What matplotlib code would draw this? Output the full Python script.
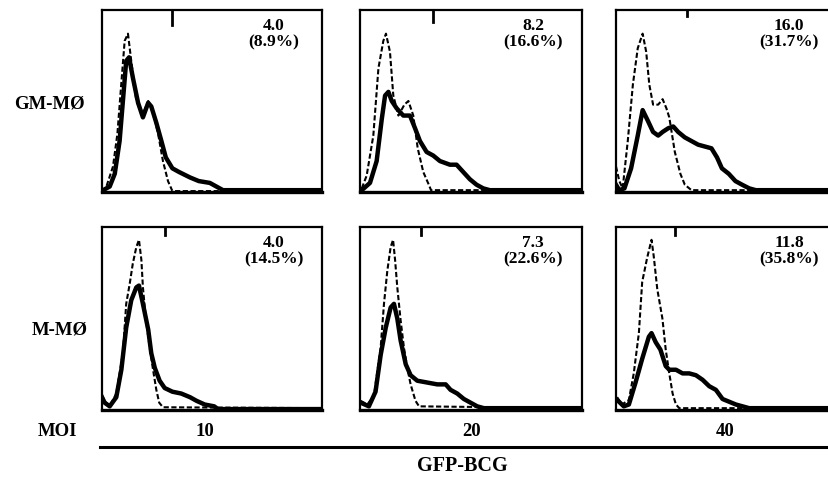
import matplotlib
matplotlib.use("Agg")
import matplotlib.pyplot as plt

plt.rcParams["font.family"] = ["Liberation Serif", "DejaVu Serif"]
plt.rcParams["font.weight"] = "bold"

# Zeilen / Spalten
row_labels = ["GM-MØ", "M-MØ"]
moi_labels = ["10", "20", "40"]

# Kennzahlen je Panel (MFI-Verhältnis, Anteil positiver Zellen)
gm_values = ["4.0\n(8.9%)", "8.2\n(16.6%)", "16.0\n(31.7%)"]
m_values = ["4.0\n(14.5%)", "7.3\n(22.6%)", "11.8\n(35.8%)"]

# Marker-Position (Kanal) je Panel
gm_marker = [32, 33, 32]
m_marker = [28.6, 27.5, 26.8]
gm_marker_len = [0.08, 0.065, 0.035]
m_marker_len = [0.045, 0.045, 0.045]

# GM-MØ, MOI 10
gm10_ctrl_x = [0, 2, 5, 7, 8.8, 10.3, 11.8, 13.3, 15.6, 18.6, 21, 23, 25.5, 27.7, 30, 32, 100]
gm10_ctrl_y = [0, 3, 14, 32, 60, 83, 87, 72, 50, 43, 50, 45, 32, 17, 6, 0.5, 0.5]
gm10_bcg_x = [0.5, 3.5, 5.8, 8, 9.5, 11, 12.3, 14, 16.4, 18.6, 21, 22.4, 24.7, 27, 29, 32, 35, 40, 44,
              49, 52, 55, 100]
gm10_bcg_y = [1, 3, 10, 28, 50, 72, 74, 63, 49, 41, 49, 47, 38, 28, 19, 13, 11, 8, 6, 5, 3, 1, 1]

# GM-MØ, MOI 20
gm20_ctrl_x = [0.8, 3, 6, 8.3, 10.5, 11.7, 13.5, 15, 17.3, 20, 21.8, 24, 26, 28.5, 31, 32, 100]
gm20_ctrl_y = [2, 9, 31, 68, 83, 87, 77, 53, 42, 48, 50, 42, 24, 11, 4, 1, 1]
gm20_bcg_x = [0.8, 4.5, 7.5, 9.8, 11.3, 12.8, 14.3, 16.5, 19.5, 22.5, 24.8, 27, 30, 33, 36, 40.5,
              43.5, 46.5, 49.5, 52.5, 55.5, 58.5, 100]
gm20_bcg_y = [1, 5, 17, 40, 53, 55, 50, 46, 42, 42, 35, 28, 22, 20, 17, 15, 15, 11, 7, 4, 2, 1, 1]

# GM-MØ, MOI 40
gm40_ctrl_x = [0, 1.5, 3, 5.3, 7.6, 9.8, 12, 13.6, 15, 16.7, 19, 21, 22.7, 24, 26.5, 29, 31, 34, 100]
gm40_ctrl_y = [14, 6, 2, 28, 59, 79, 87, 77, 59, 48, 48, 51, 46, 41, 22, 10, 4, 1, 1]
gm40_bcg_x = [0, 1.5, 3.8, 6.8, 9.8, 12, 14.4, 16.7, 19, 21, 23.5, 25.8, 28, 31, 34, 37, 40, 43,
              45.5, 47.7, 50.8, 53.8, 56.8, 60, 63, 100]
gm40_bcg_y = [4, 1, 2, 13, 31, 45, 39, 33, 31, 33, 35, 36, 33, 30, 28, 26, 25, 24, 19, 13, 10, 6,
              4, 2, 1, 1]

# M-MØ, MOI 10
m10_ctrl_x = [0, 1.2, 3.5, 6.5, 9.5, 11, 12.6, 14, 15.6, 16.8, 17.9, 18.6, 20, 21.7, 23.2, 24.7,
              26, 27.7, 100]
m10_ctrl_y = [8, 5, 2, 9, 31, 58, 69, 80, 89, 93, 82, 67, 49, 34, 22, 11, 4, 1.5, 1]
m10_bcg_x = [0, 1.2, 3.5, 6.5, 8.8, 11, 13.3, 15.6, 16.8, 18.6, 21, 22.4, 24, 26.2, 28.5, 32, 36,
             40, 43, 46.7, 51, 52.7, 100]
m10_bcg_y = [7, 4, 2, 7, 22, 45, 60, 67, 68, 58, 44, 31, 23, 16, 12, 10, 9, 7, 5, 3, 2, 0.5, 0.5]

# M-MØ, MOI 20
m20_ctrl_x = [0.3, 3.3, 6.3, 9.3, 10.8, 12.3, 13.8, 14.9, 15.8, 16.8, 18.3, 19.8, 21.3, 22.8, 25,
              26.6, 100]
m20_ctrl_y = [5, 3, 8, 34, 58, 76, 89, 93, 82, 67, 49, 34, 23, 14, 5, 2, 1]
m20_bcg_x = [0.3, 4, 7, 9.3, 11.6, 13.8, 15.3, 16.8, 18.3, 20.6, 22.8, 25.8, 30.3, 34.8, 38.6,
             40.8, 43.8, 46.8, 49.8, 52.8, 55.8, 100]
m20_bcg_y = [4, 2, 10, 30, 45, 56, 58, 50, 38, 25, 19, 16, 15, 14, 14, 11, 9, 6, 4, 2, 1, 1]

# M-MØ, MOI 40
m40_ctrl_x = [0.5, 2.7, 5.8, 8, 10.3, 11.8, 14, 16, 17, 18.6, 20.9, 22.4, 24, 25.5, 27, 28.5, 100]
m40_ctrl_y = [7, 3, 5.5, 20, 42, 70, 83, 93, 84, 66, 50, 33, 20, 9, 3, 1, 1]
m40_bcg_x = [0.5, 3.5, 5.8, 8.8, 11.8, 14.8, 16, 17.9, 20, 22.4, 24, 27, 30, 33, 36, 39, 42, 45,
             48, 51, 54, 57, 60, 100]
m40_bcg_y = [5.5, 2, 3, 15, 28, 40, 42, 37, 33, 24, 22, 22, 20, 20, 19, 16.5, 13, 11, 6, 4.5, 3,
             2, 1, 1]

ctrl = [[(gm10_ctrl_x, gm10_ctrl_y), (gm20_ctrl_x, gm20_ctrl_y), (gm40_ctrl_x, gm40_ctrl_y)],
        [(m10_ctrl_x, m10_ctrl_y), (m20_ctrl_x, m20_ctrl_y), (m40_ctrl_x, m40_ctrl_y)]]
bcg = [[(gm10_bcg_x, gm10_bcg_y), (gm20_bcg_x, gm20_bcg_y), (gm40_bcg_x, gm40_bcg_y)],
       [(m10_bcg_x, m10_bcg_y), (m20_bcg_x, m20_bcg_y), (m40_bcg_x, m40_bcg_y)]]
values = [gm_values, m_values]
markers = [gm_marker, m_marker]
marker_lens = [gm_marker_len, m_marker_len]

W, H = 829, 478
fig = plt.figure(figsize=(W / 100, H / 100), dpi=100)

col_left = [102, 360, 616]
col_width = [220, 222, 222]
row_top = [10, 227]
row_height = [182, 183]

for r in range(2):
    for c in range(3):
        ax = fig.add_axes([col_left[c] / W, 1 - (row_top[r] + row_height[r]) / H,
                           col_width[c] / W, row_height[r] / H])
        cx, cy = ctrl[r][c]
        bx, by = bcg[r][c]
        ax.plot(cx, cy, color="black", lw=1.5, ls=(0, (2.5, 1.2)))
        ax.plot(bx, by, color="black", lw=3.2, solid_joinstyle="round")
        ax.axvline(markers[r][c], ymin=1 - marker_lens[r][c], ymax=1, color="black", lw=2)
        ax.set_xlim(0, 100)
        ax.set_ylim(0, 100)
        ax.set_xticks([])
        ax.set_yticks([])
        for s in ax.spines.values():
            s.set_linewidth(1.6)
        ax.spines["bottom"].set_linewidth(2.4)
        ax.text(0.78, 0.955, values[r][c], transform=ax.transAxes, ha="center", va="top",
                fontsize=12.5, fontweight="bold", linespacing=1.05)

# Zeilenbeschriftungen
fig.text(85 / W, 1 - 104 / H, row_labels[0], ha="right", va="center", fontsize=13.5, fontweight="bold")
fig.text(88 / W, 1 - 330 / H, row_labels[1], ha="right", va="center", fontsize=13.5, fontweight="bold")

# MOI-Zeile
fig.text(57 / W, 1 - 432 / H, "MOI", ha="center", va="center", fontsize=13.5, fontweight="bold")
for xpos, lab in zip([205, 472, 725], moi_labels):
    fig.text(xpos / W, 1 - 432 / H, lab, ha="center", va="center", fontsize=13.5, fontweight="bold")

fig.add_artist(plt.Line2D([100 / W, 1.0], [1 - 447 / H, 1 - 447 / H], color="black", lw=2.2))
fig.text(462 / W, 1 - 466 / H, "GFP-BCG", ha="center", va="center", fontsize=14.5, fontweight="bold")

fig.savefig("out.png", dpi=100)
